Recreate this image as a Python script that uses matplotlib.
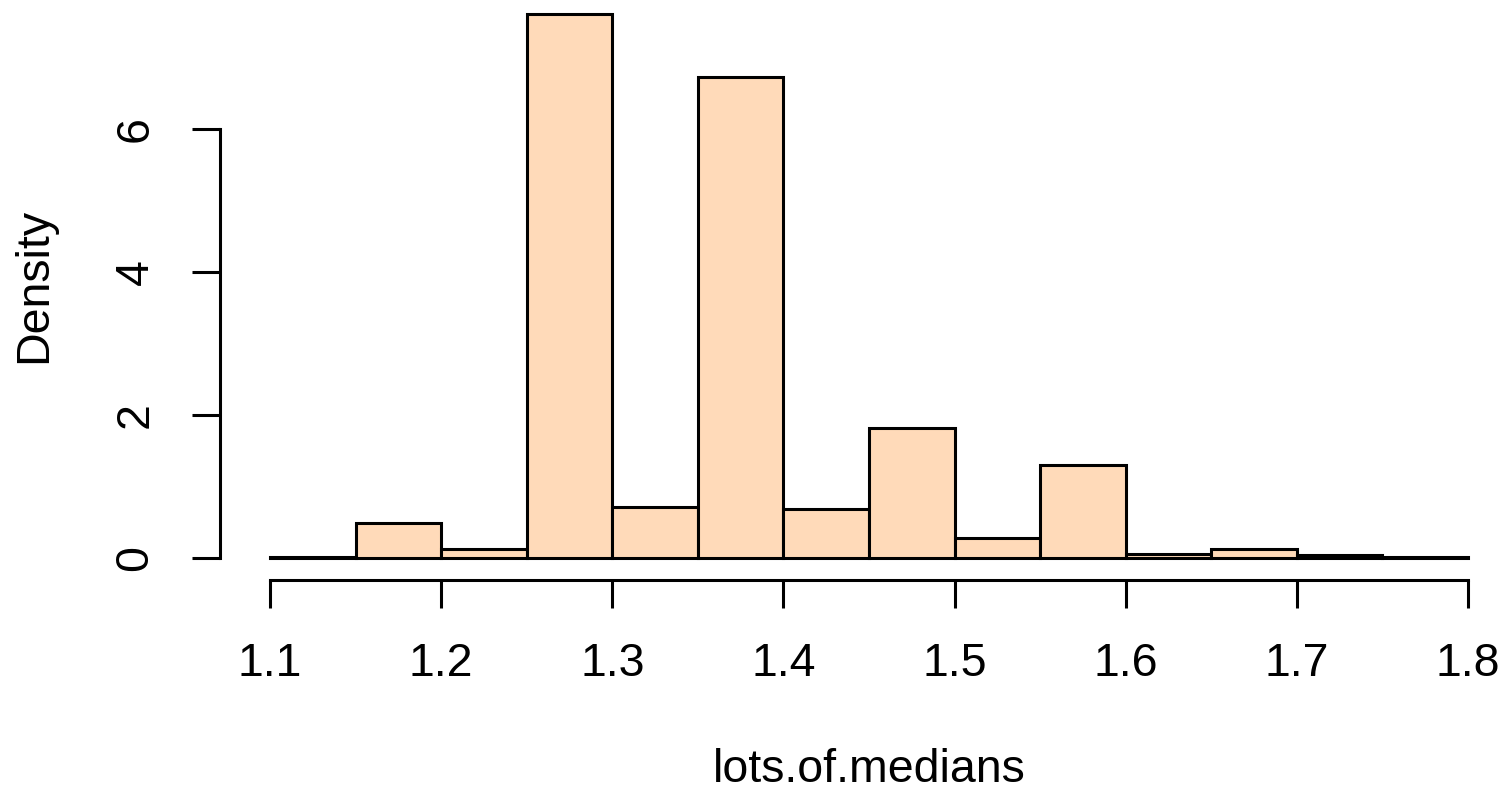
import numpy as np
import matplotlib.pyplot as plt

plt.rcParams['font.family'] = ['Liberation Sans', 'DejaVu Sans']

# histogram of lots.of.medians (density scale), bin width 0.05
bin_edges = [1.10, 1.15, 1.20, 1.25, 1.30, 1.35, 1.40, 1.45,
             1.50, 1.55, 1.60, 1.65, 1.70, 1.75, 1.80]
density = [0.01, 0.49, 0.13, 7.61, 0.72, 6.73, 0.68, 1.82,
           0.28, 1.30, 0.06, 0.13, 0.04, 0.02]
x_ticks = [1.1, 1.2, 1.3, 1.4, 1.5, 1.6, 1.7, 1.8]
y_ticks = [0, 2, 4, 6]

W, H = 1508, 794
fig = plt.figure(figsize=(W / 100, H / 100), dpi=100)

# pixel mapping
px_per_x = 1711.4  # pixels per data unit on x
px_per_y = 71.5    # pixels per data unit on y
ax_left, ax_right = 220, 1508
ax_top, ax_bottom = 0, 580
x0, y0 = 270, 558  # pixel of x=1.1, y=0

ax = fig.add_axes([ax_left / W, 1 - ax_bottom / H,
                   (ax_right - ax_left) / W, (ax_bottom - ax_top) / H])
ax.set_xlim(1.1 - (x0 - ax_left) / px_per_x, 1.1 + (ax_right - x0) / px_per_x)
ax.set_ylim(-(ax_bottom - y0) / px_per_y, (y0 - ax_top) / px_per_y)

widths = np.diff(bin_edges)
ax.bar(bin_edges[:-1], density, width=widths, align='edge',
       color='#FFDAB9', edgecolor='black', linewidth=2.2)

for s in ['top', 'right']:
    ax.spines[s].set_visible(False)
ax.spines['left'].set_bounds(0, 6)
ax.spines['bottom'].set_bounds(1.1, 1.8)
ax.spines['left'].set_linewidth(2.2)
ax.spines['bottom'].set_linewidth(2.2)

ax.set_xticks(x_ticks)
ax.set_xticklabels([f'{v:.1f}' for v in x_ticks])
ax.set_yticks(y_ticks)
ax.set_yticklabels([str(v) for v in y_ticks], rotation=90, va='center')
ax.tick_params(axis='both', length=20, width=2.2, labelsize=33.5)
ax.tick_params(axis='x', pad=25)
ax.tick_params(axis='y', pad=25)

fig.text(869 / W, 1 - 770 / H, 'lots.of.medians', ha='center', va='center', fontsize=33.5)
fig.text(34 / W, 1 - 285 / H, 'Density', ha='center', va='center', fontsize=33.5, rotation=90)

fig.savefig('out.png', dpi=100)
